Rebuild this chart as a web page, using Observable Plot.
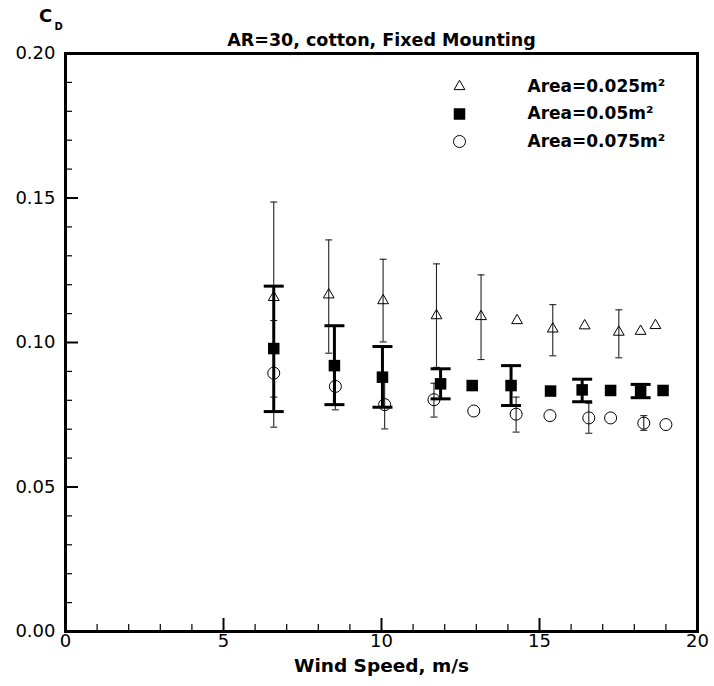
<!DOCTYPE html>
<html><head><meta charset="utf-8">
<script src="https://cdn.jsdelivr.net/npm/d3@7"></script>
<script src="https://cdn.jsdelivr.net/npm/@observablehq/plot@0.6"></script>
<style>body{margin:0;background:#fff}</style>
</head><body><div id="chart"></div>
<script>
const titleText = "AR=30, cotton, Fixed Mounting";
const xLabelText = "Wind Speed, m/s";
const yLabelMain = "C";
const yLabelSub = "D";
const seriesNames = ["Area=0.025m²", "Area=0.05m²", "Area=0.075m²"];

// Area = 0.025 m2 (open triangles)
const speedA = [6.59, 8.33, 10.05, 11.74, 13.15, 14.29, 15.42, 16.43, 17.51, 18.2, 18.67];
const cdA    = [0.1156, 0.1165, 0.1145, 0.1093, 0.1090, 0.1076, 0.1047, 0.1058, 0.1036, 0.1039, 0.1059];
const errSpeedA = [6.59, 8.33, 10.05, 11.74, 13.15, 15.42, 17.51];
const errLoA    = [0.0811, 0.0963, 0.1002, 0.0914, 0.0941, 0.0954, 0.0947];
const errHiA    = [0.1486, 0.1355, 0.1288, 0.1272, 0.1234, 0.1131, 0.1113];

// Area = 0.05 m2 (filled squares)
const speedB = [6.59, 8.51, 10.03, 11.87, 12.87, 14.1, 15.35, 16.35, 17.25, 18.2, 18.91];
const cdB    = [0.0979, 0.0920, 0.0880, 0.0857, 0.0851, 0.0851, 0.0832, 0.0836, 0.0834, 0.0832, 0.0834];
const errSpeedB = [6.59, 8.51, 10.03, 11.87, 14.1, 16.35, 18.2];
const errLoB    = [0.0761, 0.0785, 0.0776, 0.0805, 0.0782, 0.0795, 0.0809];
const errHiB    = [0.1195, 0.1058, 0.0986, 0.0909, 0.0920, 0.0873, 0.0855];

// Area = 0.075 m2 (open circles)
const speedC = [6.59, 8.54, 10.1, 11.66, 12.92, 14.26, 15.33, 16.56, 17.25, 18.3, 19.0];
const cdC    = [0.0894, 0.0848, 0.0785, 0.0802, 0.0763, 0.0752, 0.0747, 0.0739, 0.0739, 0.0721, 0.0716];
const errSpeedC = [6.59, 8.54, 10.1, 11.66, 14.26, 16.56, 18.3];
const errLoC    = [0.0707, 0.0767, 0.0701, 0.0742, 0.0690, 0.0686, 0.0696];
const errHiC    = [0.1076, 0.0929, 0.0869, 0.0859, 0.0811, 0.0790, 0.0747];

const xMajor = [0, 5, 10, 15, 20];
const xMinor = [1, 2, 3, 4, 6, 7, 8, 9, 11, 12, 13, 14, 16, 17, 18, 19];
const yMajor = [0, 0.05, 0.10, 0.15, 0.20];
const yMinor = [0.01, 0.02, 0.03, 0.04, 0.06, 0.07, 0.08, 0.09, 0.11, 0.12, 0.13, 0.14, 0.16, 0.17, 0.18, 0.19];

const pts = (xs, ys) => xs.map((x, i) => ({x, y: ys[i]}));
const errs = (xs, lo, hi) => xs.map((x, i) => ({x, lo: lo[i], hi: hi[i]}));
const ptsA = pts(speedA, cdA), ptsB = pts(speedB, cdB), ptsC = pts(speedC, cdC);
const errA = errs(errSpeedA, errLoA, errHiA), errB = errs(errSpeedB, errLoB, errHiB), errC = errs(errSpeedC, errLoC, errHiC);

const cap = {draw(ctx, size) { const r = Math.sqrt(size / Math.PI); ctx.moveTo(-r, 0); ctx.lineTo(r, 0); }};

function errorBars(data, w, r, color) {
  return [
    Plot.ruleX(data, {x: "x", y1: "lo", y2: "hi", stroke: color, strokeWidth: w}),
    Plot.dot(data, {x: "x", y: "lo", symbol: cap, r, stroke: color, strokeWidth: w}),
    Plot.dot(data, {x: "x", y: "hi", symbol: cap, r, stroke: color, strokeWidth: w})
  ];
}

const symA = {symbol: "triangle", r: 4, stroke: "#000", fill: "none", strokeWidth: 1};
const symB = {symbol: "square", r: 6.5, fill: "#000", stroke: "none"};
const symC = {symbol: "circle", r: 6, stroke: "#000", fill: "none", strokeWidth: 1};
const legendSyms = [symA, symB, symC];

const legendMarks = seriesNames.flatMap((name, i) => [
  Plot.dot([name], {frameAnchor: "top-left", dx: 394, dy: 33 + i * 27.5, ...legendSyms[i]}),
  Plot.text([name], {text: d => d, frameAnchor: "top-left", dx: 462, dy: 33 + i * 27.5,
    textAnchor: "start", lineAnchor: "middle", fontWeight: "bold", fontSize: 17, fill: "#000"})
]);

const chart = Plot.plot({
  width: 714,
  height: 686,
  marginLeft: 65,
  marginRight: 17,
  marginTop: 53,
  marginBottom: 55,
  style: {fontFamily: "DejaVu Sans", fontSize: "18px", background: "#fff", color: "#000"},
  x: {domain: [0, 20]},
  y: {domain: [0, 0.2]},
  marks: [
    Plot.axisX(xMajor, {tickSize: 0, tickPadding: 3, fontSize: 18, label: null}),
    Plot.axisY(yMajor, {tickSize: 0, tickPadding: 10, tickFormat: d3.format(".2f"), fontSize: 18, label: null}),
    Plot.axisX(xMajor, {tickSize: -13, strokeWidth: 2, tickFormat: () => "", label: null}),
    Plot.axisX(xMinor, {tickSize: -7, strokeWidth: 1.2, tickFormat: () => "", label: null}),
    Plot.axisY(yMajor, {tickSize: -13, strokeWidth: 2, tickFormat: () => "", label: null}),
    Plot.axisY(yMinor, {tickSize: -7, strokeWidth: 1.2, tickFormat: () => "", label: null}),
    ...errorBars(errA, 1.1, 3.5, "#222"),
    ...errorBars(errC, 1.1, 3.5, "#222"),
    Plot.dot(ptsA, {x: "x", y: "y", ...symA}),
    ...errorBars(errB, 3, 10, "#000"),
    Plot.dot(ptsB, {x: "x", y: "y", ...symB}),
    Plot.dot(ptsC, {x: "x", y: "y", ...symC}),
    ...legendMarks,
    Plot.frame({stroke: "#000", strokeWidth: 3}),
    Plot.text([titleText], {text: d => d, frameAnchor: "top", dy: -13, lineAnchor: "middle", fontWeight: "bold", fontSize: 17.5, fill: "#000"}),
    Plot.text([xLabelText], {text: d => d, frameAnchor: "bottom", dy: 35, lineAnchor: "middle", fontWeight: "bold", fontSize: 18.5, fill: "#000"}),
    Plot.text([yLabelMain], {text: d => d, frameAnchor: "top-left", dx: -20, dy: -37, lineAnchor: "middle", textAnchor: "middle", fontWeight: "bold", fontSize: 18, fill: "#000"}),
    Plot.text([yLabelSub], {text: d => d, frameAnchor: "top-left", dx: -11, dy: -27, lineAnchor: "middle", textAnchor: "start", fontWeight: "bold", fontSize: 10, fill: "#000"})
  ]
});
document.getElementById("chart").appendChild(chart);
</script>
</body></html>
